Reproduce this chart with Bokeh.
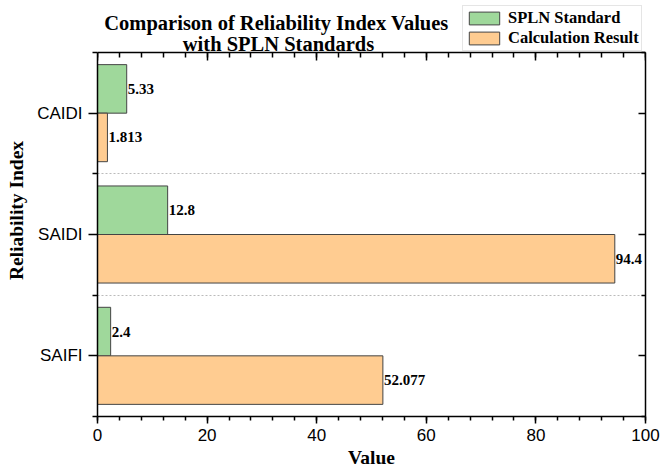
from bokeh.plotting import figure
from bokeh.models import (Range1d, LinearAxis, FixedTicker, SingleIntervalTicker,
                          Label, Legend, LegendItem, ColumnDataSource, CustomJSTickFormatter)
from bokeh.core.properties import value
from bokeh.embed import file_html
from bokeh.resources import INLINE

# ---- data ----
categories = ["SAIFI", "SAIDI", "CAIDI"]
spln_standard = [2.4, 12.8, 5.33]
calculation_result = [52.077, 94.4, 1.813]
spln_labels = ["2.4", "12.8", "5.33"]
calc_labels = ["52.077", "94.4", "1.813"]
series_names = ["SPLN Standard", "Calculation Result"]
title_lines = ["Comparison of Reliability Index Values", "with SPLN Standards"]

GREEN = "#9FD89B"
ORANGE = "#FFCC91"
EDGE = "#444444"
SERIF = "Liberation Serif"
SANS = "Liberation Sans"
BAR_H = 0.4

# ---- layout geometry (pixels) ----
W, H = 662, 471
BORDER_L, BORDER_R, BORDER_T, BORDER_B = 97, 17, 4, 55
PLOT_TOP = 52            # canvas y of the top edge of the plotting box
frame_h = H - BORDER_T - BORDER_B
box_h = H - BORDER_B - PLOT_TOP
n = len(categories)
y_end = n * frame_h / box_h   # extra room above the box for the header

centers = [i + 0.5 for i in range(n)]
green_src = ColumnDataSource(dict(y=[c + BAR_H / 2 for c in centers], v=spln_standard, t=spln_labels))
orange_src = ColumnDataSource(dict(y=[c - BAR_H / 2 for c in centers], v=calculation_result, t=calc_labels))

p = figure(width=W, height=H, x_range=Range1d(0, 100), y_range=Range1d(0, y_end),
           output_backend="svg", toolbar_location=None,
           x_axis_location=None, y_axis_location=None,
           min_border_left=BORDER_L, min_border_right=BORDER_R,
           min_border_top=BORDER_T, min_border_bottom=BORDER_B)
p.outline_line_color = None
p.background_fill_color = "white"
p.border_fill_color = "white"

xticker = SingleIntervalTicker(interval=20, num_minor_ticks=5)
yticker = FixedTicker(ticks=centers, minor_ticks=list(range(n + 1)))
blank = CustomJSTickFormatter(code="return ''")

def style(ax):
    ax.axis_line_color = "black"
    ax.axis_line_width = 1.5
    ax.major_tick_line_color = "black"
    ax.major_tick_line_width = 1.5
    ax.minor_tick_line_color = "black"
    ax.minor_tick_line_width = 1.5

bottom = LinearAxis(ticker=xticker, axis_label="Value")
style(bottom)
bottom.major_tick_out = 7; bottom.major_tick_in = 0
bottom.minor_tick_out = 4; bottom.minor_tick_in = 0
bottom.major_label_text_font = SANS
bottom.major_label_text_font_size = "17px"
bottom.major_label_text_color = "black"
bottom.major_label_standoff = 5
bottom.axis_label_text_font = SERIF
bottom.axis_label_text_font_style = "bold"
bottom.axis_label_text_font_size = "19.5px"
bottom.axis_label_text_color = "black"
bottom.axis_label_standoff = 3
p.add_layout(bottom, "below")

top = LinearAxis(ticker=xticker, formatter=blank, fixed_location=n)
style(top)
top.major_tick_out = 0; top.major_tick_in = 8
top.minor_tick_out = 0; top.minor_tick_in = 5
top.major_label_standoff = 0
top.major_label_text_font_size = "1px"
p.add_layout(top, "above")

left = LinearAxis(ticker=yticker, axis_label="Reliability Index", bounds=(0, n),
                  major_label_overrides={c: name for c, name in zip(centers, categories)})
style(left)
left.major_tick_out = 9; left.major_tick_in = 0
left.minor_tick_out = 5; left.minor_tick_in = 0
left.major_label_text_font = SANS
left.major_label_text_font_size = "17px"
left.major_label_text_color = "black"
left.major_label_standoff = 6
left.axis_label_text_font = SERIF
left.axis_label_text_font_style = "bold"
left.axis_label_text_font_size = "19.5px"
left.axis_label_text_color = "black"
left.axis_label_standoff = 7
p.add_layout(left, "left")

right = LinearAxis(ticker=yticker, formatter=blank, bounds=(0, n))
style(right)
right.major_tick_out = 0; right.major_tick_in = 7
right.minor_tick_out = 0; right.minor_tick_in = 4
right.major_label_standoff = 0
right.major_label_text_font_size = "1px"
p.add_layout(right, "right")

p.xgrid.visible = False
p.ygrid.ticker = FixedTicker(ticks=list(range(1, n)))
p.ygrid.grid_line_color = "#bbbbbb"
p.ygrid.grid_line_dash = "2 2"
p.ygrid.grid_line_width = 1

g = p.hbar(y="y", left=0, right="v", height=BAR_H, source=green_src,
           fill_color=GREEN, line_color=EDGE, line_width=1)
o = p.hbar(y="y", left=0, right="v", height=BAR_H, source=orange_src,
           fill_color=ORANGE, line_color=EDGE, line_width=1)

for src in (green_src, orange_src):
    p.text(x="v", y="y", text="t", source=src, x_offset=1,
           text_baseline="middle", text_align="left",
           text_font=value(SERIF), text_font_style="bold",
           text_font_size="15px", text_color="black")

# header: title (two centred lines) and legend, in screen px from the frame's bottom-left
frame_bottom = H - BORDER_B
p.add_layout(Label(x=276 - BORDER_L, y=frame_bottom - 22, x_units="screen", y_units="screen",
                   text=title_lines[0], text_align="center", text_baseline="alphabetic",
                   text_font=SERIF, text_font_style="bold", text_font_size="20.5px",
                   text_color="black"))
p.add_layout(Label(x=278 - BORDER_L, y=frame_bottom - 43, x_units="screen", y_units="screen",
                   text=title_lines[1], text_align="center", text_baseline="alphabetic",
                   text_font=SERIF, text_font_style="bold", text_font_size="20.5px",
                   text_color="black"))

legend = Legend(items=[LegendItem(label=series_names[0], renderers=[g]),
                       LegendItem(label=series_names[1], renderers=[o])],
                location=(462 - BORDER_L, frame_bottom - 51), orientation="vertical")
legend.label_text_font = SERIF
legend.label_text_font_style = "bold"
legend.label_text_font_size = "16.5px"
legend.label_text_color = "black"
legend.glyph_width = 38
legend.glyph_height = 16
legend.label_height = 16
legend.label_standoff = 5
legend.spacing = 0
legend.padding = 2
legend.margin = 0
legend.border_line_color = "#cccccc"
legend.border_line_width = 1
legend.background_fill_color = "white"
legend.background_fill_alpha = 1
p.add_layout(legend, "center")

open("out.html", "w").write(file_html(p, INLINE))
